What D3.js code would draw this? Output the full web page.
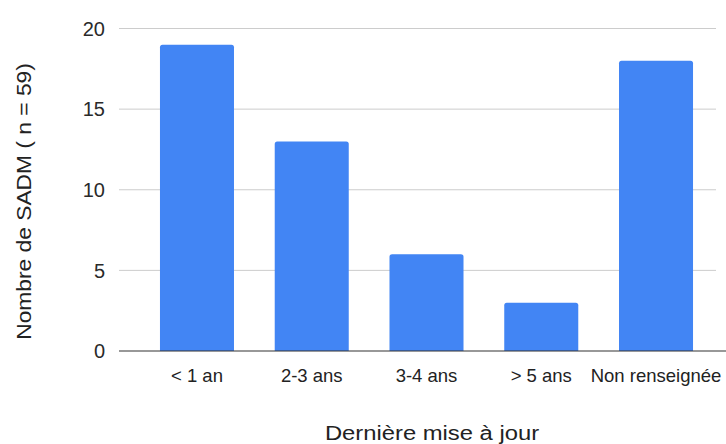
<!DOCTYPE html>
<html><head><meta charset="utf-8">
<script src="https://cdn.jsdelivr.net/npm/d3@7"></script>
<style>body{margin:0;background:#fff}svg{display:block}text{font-family:"Liberation Sans",Arial,sans-serif}</style>
</head><body>
<svg id="c" width="726" height="444"></svg>
<script>
const categories = ["< 1 an", "2-3 ans", "3-4 ans", "> 5 ans", "Non renseignée"];
const values = [19, 13, 6, 3, 18];
const yTicks = [0, 5, 10, 15, 20];
const xTitle = "Dernière mise à jour";
const yTitle = "Nombre de SADM ( n = 59)";

const svg = d3.select("#c");
const x = d3.scaleBand().domain(categories).range([139.6, 713.4]).paddingInner(0.355).paddingOuter(0.1775);
const y = d3.scaleLinear().domain([0, 20]).range([351, 28.5]);

// gridlines
svg.append("g").selectAll("line").data(yTicks.filter(d => d > 0)).join("line")
  .attr("x1", 119).attr("x2", 716).attr("y1", d => y(d)).attr("y2", d => y(d))
  .attr("stroke", "#cccccc").attr("stroke-width", 1);

// y tick labels
svg.append("g").selectAll("text").data(yTicks).join("text")
  .attr("x", 105).attr("y", d => y(d)).attr("dy", "0.36em")
  .attr("text-anchor", "end").attr("font-size", 20).attr("fill", "#2a2a2a")
  .text(d => d);

// bars
svg.append("g").selectAll("path").data(values).join("path")
  .attr("fill", "#4285f4")
  .attr("d", (d, i) => {
    const x0 = x(categories[i]), w = x.bandwidth(), y0 = y(d), y1 = y(0), r = 2.5;
    return `M${x0},${y1}V${y0 + r}Q${x0},${y0} ${x0 + r},${y0}H${x0 + w - r}Q${x0 + w},${y0} ${x0 + w},${y0 + r}V${y1}Z`;
  });

// baseline
svg.append("line").attr("x1", 119).attr("x2", 726).attr("y1", y(0)).attr("y2", y(0))
  .attr("stroke", "#333").attr("stroke-width", 1.2);

// x labels
svg.append("g").selectAll("text").data(categories).join("text")
  .attr("x", d => x(d) + x.bandwidth() / 2).attr("y", 381.5)
  .attr("text-anchor", "middle").attr("font-size", 18.5).attr("fill", "#222")
  .text(d => d);

// axis titles
svg.append("text").attr("transform", "translate(432,440) scale(1.19,1)").attr("text-anchor", "middle")
  .attr("font-size", 20).attr("fill", "#222").text(xTitle);
svg.append("text").attr("transform", "translate(31,201.5) rotate(-90) scale(1.085,1)").attr("text-anchor", "middle")
  .attr("font-size", 21).attr("fill", "#222").text(yTitle);
</script>
</body></html>
